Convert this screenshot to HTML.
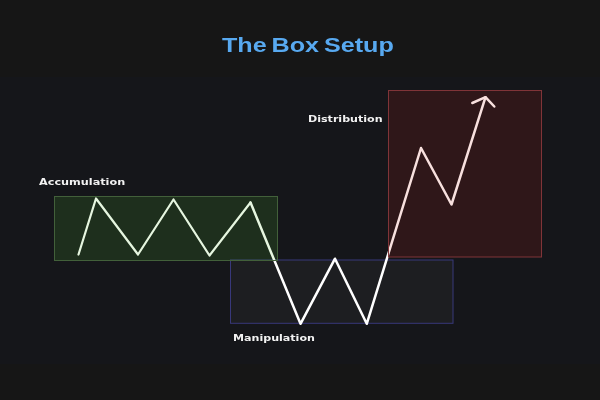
<!DOCTYPE html>
<html lang="en">
<head>
<meta charset="utf-8">
<title>The Box Setup</title>
<style>
  html,body{margin:0;padding:0;}
  body{width:600px;height:400px;overflow:hidden;background:#161616;position:relative;
       font-family:"DejaVu Sans","Liberation Sans",sans-serif;}
  .band{position:absolute;left:0;top:76.5px;width:600px;height:287.5px;background:#15161a;}
  svg{position:absolute;left:0;top:0;}
  .t{position:absolute;white-space:nowrap;line-height:1;margin:0;will-change:transform;}
  h1.t{font-family:"Liberation Sans",sans-serif;font-weight:bold;font-size:20.3px;color:#58a9f0;
       left:221.5px;top:34.5px;transform-origin:0 0;transform:scaleX(1.24);word-spacing:-1.7px;}
  .lab{font-weight:bold;font-size:9px;color:#f2f2f2;transform-origin:0 0;transform:scaleX(1.232);}
</style>
</head>
<body>
<div class="band"></div>
<svg width="600" height="400" viewBox="0 0 600 400">
  <rect x="230.5" y="260" width="222.5" height="63.3" fill="#1d1e21" stroke="#38387a" stroke-width="1"/>
  <polyline fill="none" stroke="#ffffff" stroke-width="2.2" stroke-linejoin="round" stroke-linecap="round"
    points="78.5,254.5 96,198.5 138,254.5 173.5,199.5 209.5,255.5 250.5,202.5"/>
  <polyline fill="none" stroke="#ffffff" stroke-width="2.5" stroke-linejoin="round" stroke-linecap="round"
    points="250.5,202.5 300.5,323.8 335,258.7 366.75,323.8 421,148 451.5,204.5 485.5,97.2"/>
  <polyline fill="none" stroke="#ffffff" stroke-width="2.5" stroke-linejoin="round" stroke-linecap="round"
    points="472.3,103 485.5,97.2 494.3,106.5"/>
  <rect x="54.5" y="196.5" width="223" height="64" fill="rgba(88,195,46,0.15)" stroke="#42603a" stroke-width="1"/>
  <rect x="388.5" y="90.5" width="153" height="166.5" fill="rgba(207,36,19,0.14)" stroke="#803438" stroke-width="1"/>
</svg>
<h1 class="t">The Box Setup</h1>
<div class="t lab" style="left:38.6px;top:178.1px;transform:scaleX(1.25);">Accumulation</div>
<div class="t lab" style="left:307.7px;top:115.3px;">Distribution</div>
<div class="t lab" style="left:233.3px;top:334.3px;">Manipulation</div>
</body>
</html>
